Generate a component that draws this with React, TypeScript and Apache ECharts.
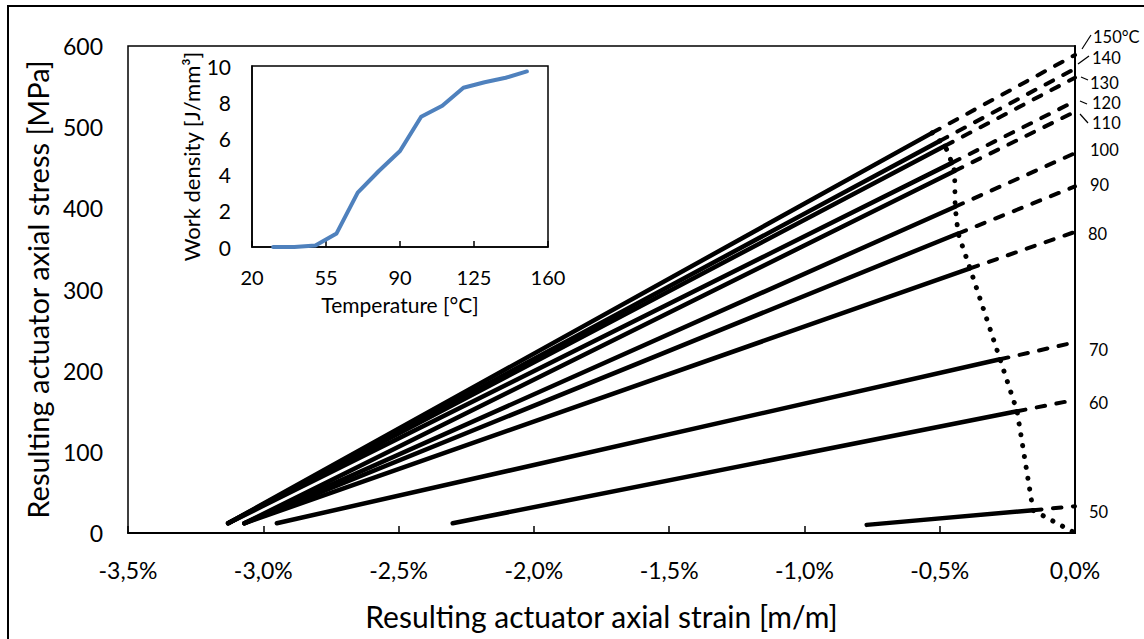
import React, { useEffect, useRef } from "react";
import * as echarts from "echarts";

// Main chart data (strain in %, stress in MPa)
const temperatures = [50, 60, 70, 80, 90, 100, 110, 120, 130, 140, 150];
const startStrain = [-0.77, -2.3, -2.95, -3.07, -3.07, -3.07, -3.07, -3.13, -3.13, -3.13, -3.13];
const startStress = [10, 12, 12, 12, 12, 12, 12, 12, 12, 12, 12];
const solidEndStrain = [-0.155, -0.214, -0.277, -0.388, -0.432, -0.443, -0.445, -0.455, -0.48, -0.5, -0.528];
const solidEndStress = [28, 150, 214, 326, 369, 402, 446, 456, 477, 483, 493];
const zeroStrainStress = [33, 164, 235, 371, 427, 468, 519, 532, 561, 572, 589];
const tempLabels = ["50", "60", "70", "80", "90", "100", "110", "120", "130", "140", "150°C"];

const xTickValues = [-3.5, -3.0, -2.5, -2.0, -1.5, -1.0, -0.5, 0.0];
const xTickLabels = ["-3,5%", "-3,0%", "-2,5%", "-2,0%", "-1,5%", "-1,0%", "-0,5%", "0,0%"];

// Inset data
const insetTemps = [30, 40, 50, 60, 70, 80, 90, 100, 110, 120, 130, 140, 150];
const insetWork = [0, 0, 0.08, 0.75, 3.0, 4.2, 5.3, 7.2, 7.8, 8.8, 9.1, 9.35, 9.7];
const insetXTicks = [20, 55, 90, 125, 160];

const FONT = "Lato";

export default function App() {
  const ref = useRef<HTMLDivElement>(null);
  useEffect(() => {
    document.body.style.margin = "0";
    const chart = echarts.init(ref.current!, undefined, { renderer: "svg" });

    const series: any[] = [];
    temperatures.forEach((t, i) => {
      series.push({
        type: "line",
        name: "solid" + t,
        xAxisIndex: 0,
        yAxisIndex: 0,
        symbol: "none",
        silent: true,
        data: [
          [startStrain[i], startStress[i]],
          [solidEndStrain[i], solidEndStress[i]],
        ],
        lineStyle: { color: "#000", width: 4.5, cap: "round" },
      });
      series.push({
        type: "line",
        name: "dash" + t,
        xAxisIndex: 0,
        yAxisIndex: 0,
        symbol: "none",
        silent: true,
        data: [
          [solidEndStrain[i], solidEndStress[i]],
          [0, zeroStrainStress[i]],
        ],
        lineStyle: { color: "#000", width: 4, type: [8.5, 11.5], cap: "round" },
      });
    });
    const dotted: number[][] = [];
    for (let i = temperatures.length - 1; i >= 0; i--) {
      dotted.push([solidEndStrain[i], solidEndStress[i]]);
    }
    dotted.push([0, 0]);
    series.push({
      type: "line",
      name: "dotted",
      xAxisIndex: 0,
      yAxisIndex: 0,
      symbol: "none",
      silent: true,
      data: dotted,
      lineStyle: { color: "#000", width: 5, type: [0.1, 10.9], cap: "round" },
    });
    series.push({
      type: "line",
      name: "work",
      xAxisIndex: 1,
      yAxisIndex: 1,
      symbol: "none",
      silent: true,
      data: insetTemps.map((t, i) => [t, insetWork[i]]),
      lineStyle: { color: "#4F81BD", width: 4, cap: "round", join: "round" },
    });

    const labelX = [1089, 1089, 1089, 1088, 1090, 1090, 1092, 1092, 1090, 1092, 1093];
    const labelY = [512, 403, 350, 234, 185, 150, 123, 103, 83, 58, 37];
    const leaders = [
      null, null, null, null, null, null,
      [1080, 114, 1088, 123],
      [1080, 101, 1087, 104],
      [1081, 77, 1088, 80],
      [1078, 64, 1089, 56],
      [1082, 49, 1091, 35],
    ];
    const graphics: any[] = [
      {
        type: "rect",
        shape: { x: 8, y: 6, width: 1160, height: 660 },
        style: { fill: "none", stroke: "#000", lineWidth: 2 },
        silent: true,
      },
    ];
    tempLabels.forEach((txt, i) => {
      graphics.push({
        type: "text",
        x: labelX[i],
        y: labelY[i],
        style: {
          text: txt,
          fontSize: 16.5,
          fontFamily: FONT,
          fill: "#000",
          verticalAlign: "middle",
          align: "left",
        },
        silent: true,
      });
      const l = leaders[i];
      if (l) {
        graphics.push({
          type: "line",
          shape: { x1: l[0], y1: l[1], x2: l[2], y2: l[3] },
          style: { stroke: "#000", lineWidth: 1.2 },
          silent: true,
        });
      }
    });

    chart.setOption({
      animation: false,
      backgroundColor: "#fff",
      textStyle: { fontFamily: FONT },
      grid: [
        {
          left: 128,
          top: 46,
          width: 947,
          height: 487,
          show: true,
          borderColor: "#000",
          borderWidth: 1.5,
          outerBoundsMode: "none",
        },
        {
          left: 252,
          top: 66,
          width: 296,
          height: 181,
          show: true,
          borderColor: "#000",
          borderWidth: 1.5,
          backgroundColor: "#fff",
          outerBoundsMode: "none",
        },
      ],
      xAxis: [
        {
          type: "value",
          gridIndex: 0,
          min: -3.5,
          max: 0,
          interval: 0.5,
          axisLine: { show: true, onZero: false, lineStyle: { color: "#000", width: 2 } },
          axisTick: { show: true, inside: true, length: 7, lineStyle: { color: "#000", width: 1.5 } },
          splitLine: { show: false },
          axisLabel: {
            color: "#000",
            fontSize: 23,
            fontFamily: FONT,
            margin: 25,
            formatter: (v: number) => {
              const idx = xTickValues.findIndex((x) => Math.abs(x - v) < 1e-6);
              return idx >= 0 ? xTickLabels[idx] : "";
            },
          },
          name: "Resulting actuator axial strain [m/m]",
          nameLocation: "middle",
          nameGap: 68,
          nameTextStyle: { color: "#000", fontSize: 30, fontFamily: FONT },
        },
        {
          type: "value",
          gridIndex: 1,
          min: 20,
          max: 160,
          axisLine: { show: true, onZero: false, lineStyle: { color: "#000", width: 1.5 } },
          axisTick: {
            show: true,
            inside: true,
            length: 6,
            customValues: insetXTicks,
            lineStyle: { color: "#000", width: 1.5 },
          },
          splitLine: { show: false },
          axisLabel: {
            color: "#000",
            fontSize: 20,
            fontFamily: FONT,
            margin: 20,
            customValues: insetXTicks,
            showMinLabel: true,
            showMaxLabel: true,
          },
          name: "Temperature [°C]",
          nameLocation: "middle",
          nameGap: 47,
          nameTextStyle: { color: "#000", fontSize: 21, fontFamily: FONT },
        },
      ],
      yAxis: [
        {
          type: "value",
          gridIndex: 0,
          min: 0,
          max: 600,
          interval: 100,
          axisLine: { show: true, lineStyle: { color: "#000", width: 2 } },
          axisTick: { show: false },
          splitLine: { show: false },
          axisLabel: { color: "#000", fontSize: 23, fontFamily: FONT, margin: 25 },
          name: "Resulting actuator axial stress [MPa]",
          nameLocation: "middle",
          nameGap: 73,
          nameTextStyle: { color: "#000", fontSize: 29, fontFamily: FONT },
        },
        {
          type: "value",
          gridIndex: 1,
          min: 0,
          max: 10,
          interval: 2,
          axisLine: { show: true, lineStyle: { color: "#000", width: 1.5 } },
          axisTick: { show: false },
          splitLine: { show: false },
          axisLabel: { color: "#000", fontSize: 21, fontFamily: FONT, margin: 21 },
          name: "Work density [J/mm³]",
          nameLocation: "middle",
          nameGap: 42,
          nameTextStyle: { color: "#000", fontSize: 22, fontFamily: FONT },
        },
      ],
      series,
      graphic: graphics,
    });
    return () => chart.dispose();
  }, []);
  return <div ref={ref} style={{ width: 1144, height: 639 }} />;
}
